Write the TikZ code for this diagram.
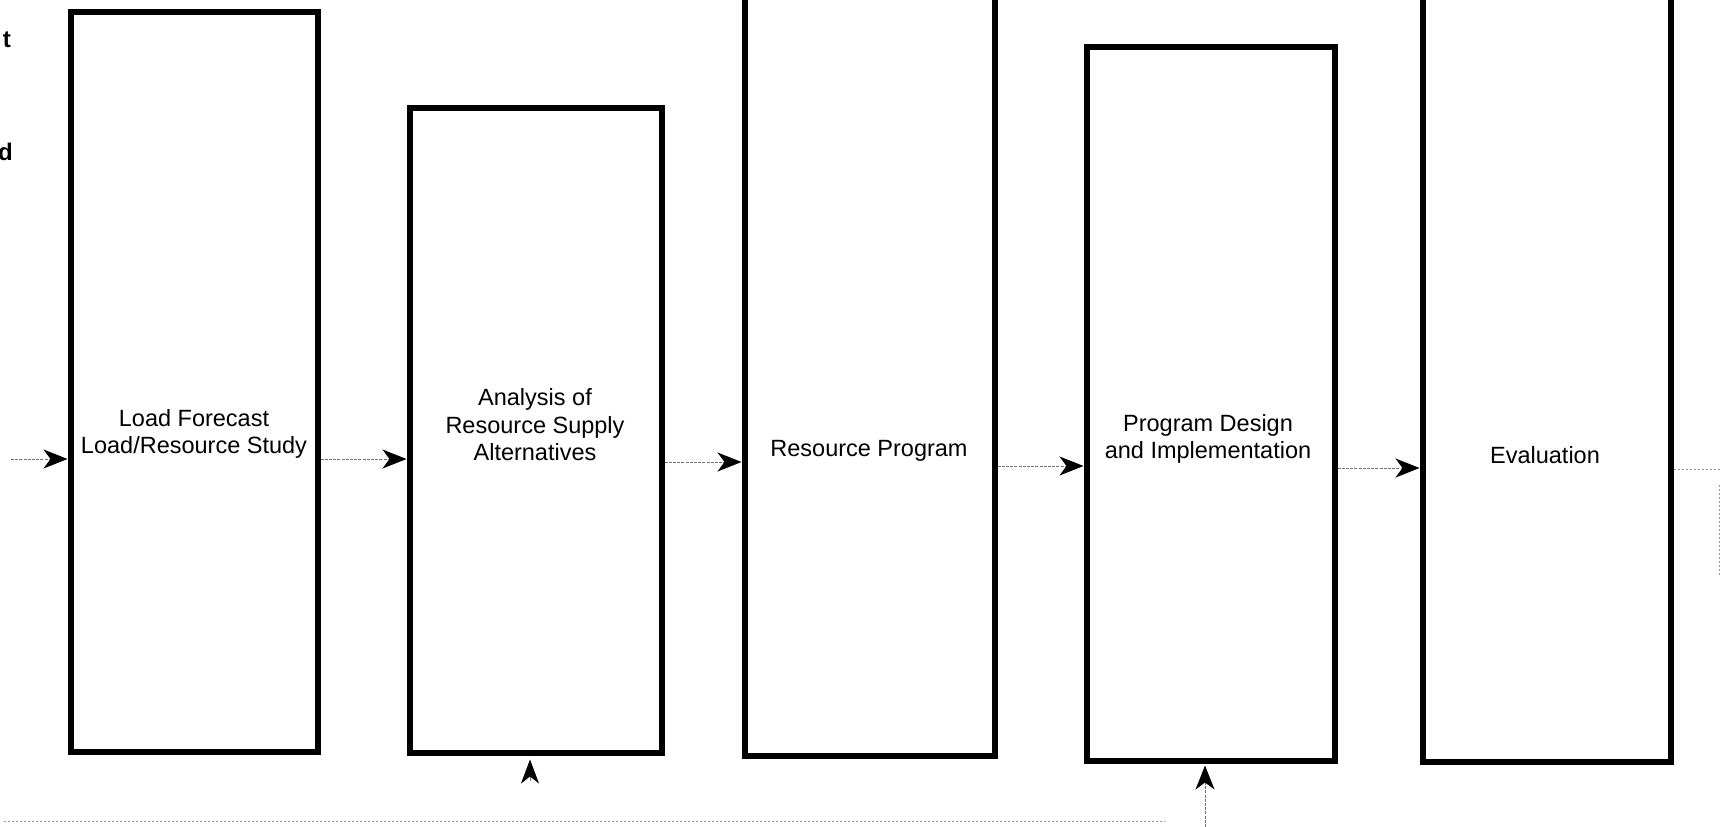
\documentclass[tikz,border=0pt]{standalone}
\usepackage{fontspec}
\setmainfont{Liberation Sans}
\usetikzlibrary{arrows.meta}
\begin{document}
\begin{tikzpicture}[x=1pt,y=-1pt,
  blockbox/.style={draw=black, line width=6pt, inner sep=0pt, fill=none},
  lbl/.style={align=center, inner sep=0pt, font=\fontsize{23.5}{27.5}\selectfont},
  edgefrag/.style={inner sep=0pt, font=\fontsize{24}{28}\selectfont\bfseries},
  flow/.style={line width=1pt, black!55, dash pattern=on 3pt off 1.2pt,
    -{Stealth[length=24pt, width=19pt, inset=7pt, black]}},
  tipup/.style={line width=1pt, black!55,
    -{Stealth[length=24pt, width=18pt, inset=7pt, black]}},
  faint/.style={line width=0.8pt, black!40, dash pattern=on 2pt off 2pt}]
\useasboundingbox[fill=white] (0,0) rectangle (1721,827);

% boxes
\node[blockbox, minimum width=247pt, minimum height=740pt] (b1) at (194,381.5) {};
\node[blockbox, minimum width=252pt, minimum height=645pt] (b2) at (535.5,430) {};
\node[blockbox, minimum width=250pt, minimum height=776pt] (b3) at (869.5,368) {};
\node[blockbox, minimum width=248pt, minimum height=714pt] (b4) at (1210.5,403.5) {};
\node[blockbox, minimum width=248pt, minimum height=782pt] (b5) at (1546.5,371) {};

% labels
\node[lbl] (t1) at (194,434) {Load Forecast\\Load/Resource Study};
\node[lbl] (t2) at (535,425) {Analysis of\\Resource Supply\\Alternatives};
\node[lbl] (t3) at (869,451) {Resource Program};
\node[lbl] (t4) at (1208,439) {Program Design\\and Implementation};
\node[lbl] (t5) at (1545,455) {Evaluation};

% cut-off fragments at left edge
\node[edgefrag, anchor=east] (f1) at (11,40) {t};
\node[edgefrag, anchor=east] (f2) at (13,152) {d};

% coordinates for free ends
\coordinate (inL) at (11,459);
\coordinate (outR) at (1721,469);
\coordinate (up2) at (530,781);
\coordinate (up4) at (1205,827);
\coordinate (botL) at (4,821);
\coordinate (botR) at (1165,821);
\coordinate (rv1) at (1719,485);
\coordinate (rv2) at (1719,575);

% horizontal flow
\draw[flow] (inL) -- ([yshift=-77.5pt]b1.west);
\draw[flow] ([yshift=-77.5pt]b1.east) -- ([yshift=-29pt]b2.west);
\draw[flow] ([yshift=-32pt]b2.east) -- ([yshift=-94pt]b3.west);
\draw[flow] ([yshift=-98pt]b3.east) -- ([yshift=-62.5pt]b4.west);
\draw[flow] ([yshift=-64.5pt]b4.east) -- ([yshift=-97pt]b5.west);
\draw[faint] ([yshift=-98pt]b5.east) -- (outR);

% upward arrows at bottom
\draw[tipup] (up2) -- ([xshift=-5.5pt,yshift=-4pt]b2.south);
\draw[flow] (up4) -- ([xshift=-5.5pt,yshift=-2pt]b4.south);

% faint feedback lines
\draw[faint] (botL) -- (botR);
\draw[faint] (rv1) -- (rv2);
\end{tikzpicture}
\end{document}
